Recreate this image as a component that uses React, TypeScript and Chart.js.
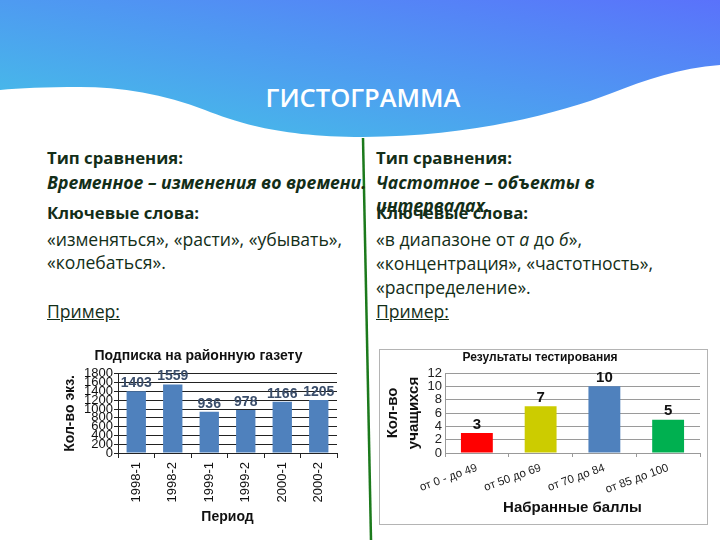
import React, { useEffect, useRef } from "react";
import { Chart, registerables } from "chart.js";

Chart.register(...registerables);

// ---- data ----
const periods = ["1998-1", "1998-2", "1999-1", "1999-2", "2000-1", "2000-2"];
const subscriptions = [1403, 1559, 936, 978, 1166, 1205];

const scoreRanges = ["от 0 - до 49", "от 50 до 69", "от 70 до 84", "от 85 до 100"];
const students = [3, 7, 10, 5];
const scoreColors = ["#ff0000", "#cccc00", "#4f81bd", "#00b050"];

const ARIAL = "'Liberation Sans', Arial, sans-serif";
const TEXT = "'Open Sans', 'Noto Sans', sans-serif";
const INK = "#132e18";

const valueLabels = (color: string, size: number) => ({
  id: "valueLabels",
  afterDatasetsDraw(chart: any) {
    const ctx = chart.ctx;
    const meta = chart.getDatasetMeta(0);
    const data = chart.data.datasets[0].data;
    ctx.save();
    ctx.fillStyle = color;
    ctx.font = `bold ${size}px ${ARIAL}`;
    ctx.textAlign = "center";
    ctx.textBaseline = "bottom";
    meta.data.forEach((bar: any, i: number) => {
      ctx.fillText(String(data[i]), bar.x, bar.y - 1);
    });
    ctx.restore();
  },
});

function LeftChart() {
  const ref = useRef<HTMLCanvasElement>(null);
  useEffect(() => {
    const chart = new Chart(ref.current!, {
      type: "bar",
      data: {
        labels: periods,
        datasets: [
          {
            data: subscriptions,
            backgroundColor: "#4f81bd",
            categoryPercentage: 1,
            barPercentage: 0.53,
          },
        ],
      },
      options: {
        animation: false,
        responsive: false,
        maintainAspectRatio: false,
        layout: { padding: { left: 0, right: 8, top: 0, bottom: 0 } },
        plugins: {
          legend: { display: false },
          tooltip: { enabled: false },
          title: {
            display: true,
            text: "Подписка на районную газету",
            color: "#111",
            font: { family: ARIAL, size: 14, weight: "bold" },
            padding: { top: 6, bottom: 9 },
          },
        },
        scales: {
          x: {
            afterFit: (s: any) => {
              s.height = 79;
            },
            grid: {
              display: true,
              drawOnChartArea: false,
              drawTicks: true,
              tickLength: 5,
              color: "#222",
            },
            border: { color: "#222" },
            ticks: {
              minRotation: 90,
              maxRotation: 90,
              padding: 4,
              color: "#111",
              font: { family: ARIAL, size: 13 },
            },
            title: {
              display: true,
              text: "Период",
              color: "#111",
              font: { family: ARIAL, size: 14, weight: "bold" },
              padding: { top: 0, bottom: 6 },
            },
          },
          y: {
            min: 0,
            max: 1800,
            afterFit: (s: any) => {
              s.width = 58;
            },
            grid: { color: "#222", tickLength: 4 },
            border: { color: "#222" },
            ticks: {
              stepSize: 200,
              autoSkip: false,
              padding: 1,
              color: "#111",
              font: { family: ARIAL, size: 13 },
              callback: (v: any) => String(v),
            },
            title: {
              display: true,
              text: "Кол-во экз.",
              color: "#111",
              font: { family: ARIAL, size: 14, weight: "bold" },
              padding: { top: 2, bottom: 0 },
            },
          },
        },
      },
      plugins: [valueLabels("#3b4e6b", 14)],
    });
    return () => chart.destroy();
  }, []);
  return (
    <canvas
      ref={ref}
      width={285}
      height={190}
      style={{ position: "absolute", left: 60, top: 342, width: 285, height: 190 }}
    />
  );
}

function RightChart() {
  const ref = useRef<HTMLCanvasElement>(null);
  useEffect(() => {
    const chart = new Chart(ref.current!, {
      type: "bar",
      data: {
        labels: scoreRanges,
        datasets: [
          {
            data: students,
            backgroundColor: scoreColors,
            categoryPercentage: 1,
            barPercentage: 0.5,
          },
        ],
      },
      options: {
        animation: false,
        responsive: false,
        maintainAspectRatio: false,
        layout: { padding: { left: 0, right: 7, top: 0, bottom: 0 } },
        plugins: {
          legend: { display: false },
          tooltip: { enabled: false },
          title: {
            display: true,
            text: "Результаты тестирования",
            color: "#111",
            font: { family: ARIAL, size: 12, weight: "bold" },
            padding: { top: 0, bottom: 8.6 },
          },
        },
        scales: {
          x: {
            afterFit: (s: any) => {
              s.height = 71;
            },
            grid: {
              display: true,
              drawOnChartArea: false,
              drawTicks: true,
              tickLength: 4,
              color: "#999",
            },
            border: { color: "#999" },
            ticks: {
              minRotation: 20,
              maxRotation: 20,
              padding: 4,
              color: "#222",
              font: { family: ARIAL, size: 11.5 },
            },
            title: {
              display: true,
              text: "Набранные баллы",
              color: "#111",
              font: { family: ARIAL, size: 15, weight: "bold" },
              padding: { top: 0, bottom: 7 },
            },
          },
          y: {
            min: 0,
            max: 12,
            afterFit: (s: any) => {
              s.width = 65;
            },
            grid: { color: "#9a9a9a", tickLength: 0 },
            border: { color: "#9a9a9a" },
            ticks: {
              stepSize: 2,
              autoSkip: false,
              padding: 3,
              color: "#222",
              font: { family: ARIAL, size: 13 },
            },
            title: {
              display: true,
              text: ["Кол-во", "учащихся"],
              color: "#111",
              font: { family: ARIAL, size: 15, weight: "bold", lineHeight: 1.35 },
              padding: { top: 3, bottom: 0 },
            },
          },
        },
      },
      plugins: [valueLabels("#111", 15)],
    });
    return () => chart.destroy();
  }, []);
  return (
    <div
      style={{
        position: "absolute",
        left: 379,
        top: 349,
        width: 327,
        height: 174,
        border: "1px solid #b4b4b4",
        background: "#fff",
      }}
    >
      <canvas ref={ref} width={327} height={174} style={{ display: "block", width: 327, height: 174 }} />
    </div>
  );
}

function Line(props: { x: number; cy: number; children: any; style?: any }) {
  return (
    <div
      style={{
        position: "absolute",
        left: props.x,
        top: props.cy - 12,
        height: 24,
        lineHeight: "24px",
        whiteSpace: "nowrap",
        fontFamily: TEXT,
        fontSize: 17.6,
        color: INK,
        ...props.style,
      }}
    >
      {props.children}
    </div>
  );
}

const B = { fontWeight: 700, fontSize: 16.8 };
const BI = { fontWeight: 700, fontStyle: "italic", fontSize: 17.6 };

export default function App() {
  return (
    <div
      style={{
        position: "absolute",
        left: 0,
        top: 0,
        width: 720,
        height: 540,
        background: "#fff",
        overflow: "hidden",
      }}
    >
      <svg width={720} height={150} style={{ position: "absolute", left: 0, top: 0 }}>
        <defs>
          <linearGradient id="hg" x1="0" y1="1" x2="1" y2="0">
            <stop offset="0" stopColor="#44c4e6" />
            <stop offset="0.55" stopColor="#4f97f2" />
            <stop offset="1" stopColor="#5a72fb" />
          </linearGradient>
        </defs>
        <path
          d="M0,0 H720 V65 C680,68 645,80 612,93 C560,113 470,137 363,137 C285,137 240,124 205,110 C165,94 120,87 80,87 C45,87 20,88 0,90 Z"
          fill="url(#hg)"
        />
      </svg>
      <div
        style={{
          position: "absolute",
          left: 0,
          width: 726,
          top: 80,
          height: 34,
          lineHeight: "34px",
          textAlign: "center",
          color: "#fff",
          fontFamily: TEXT,
          fontWeight: 600,
          fontSize: 25.5,
        }}
      >
        ГИСТОГРАММА
      </div>

      <svg width={720} height={540} style={{ position: "absolute", left: 0, top: 0 }}>
        <line x1={363} y1={138} x2={371} y2={540} stroke="#1c7a1c" strokeWidth={2.5} />
      </svg>

      <Line x={47} cy={158} style={B}>Тип сравнения:</Line>
      <Line x={47} cy={182} style={BI}>Временное – изменения во времени.</Line>
      <Line x={47} cy={213} style={B}>Ключевые слова:</Line>
      <Line x={47} cy={239}>«изменяться», «расти», «убывать»,</Line>
      <Line x={47} cy={262}>«колебаться».</Line>
      <Line x={47} cy={311} style={{ textDecoration: "underline" }}>Пример:</Line>

      <Line x={376} cy={158} style={B}>Тип сравнения:</Line>
      <Line x={376} cy={182} style={BI}>Частотное – объекты в</Line>
      <Line x={376} cy={205} style={BI}>интервалах.</Line>
      <Line x={376} cy={213} style={B}>Ключевые слова:</Line>
      <Line x={376} cy={239}>
        «в диапазоне от <i>а</i> до <i>б</i>»,
      </Line>
      <Line x={376} cy={263}>«концентрация», «частотность»,</Line>
      <Line x={376} cy={287}>«распределение».</Line>
      <Line x={376} cy={311} style={{ textDecoration: "underline" }}>Пример:</Line>

      <LeftChart />
      <RightChart />
    </div>
  );
}
